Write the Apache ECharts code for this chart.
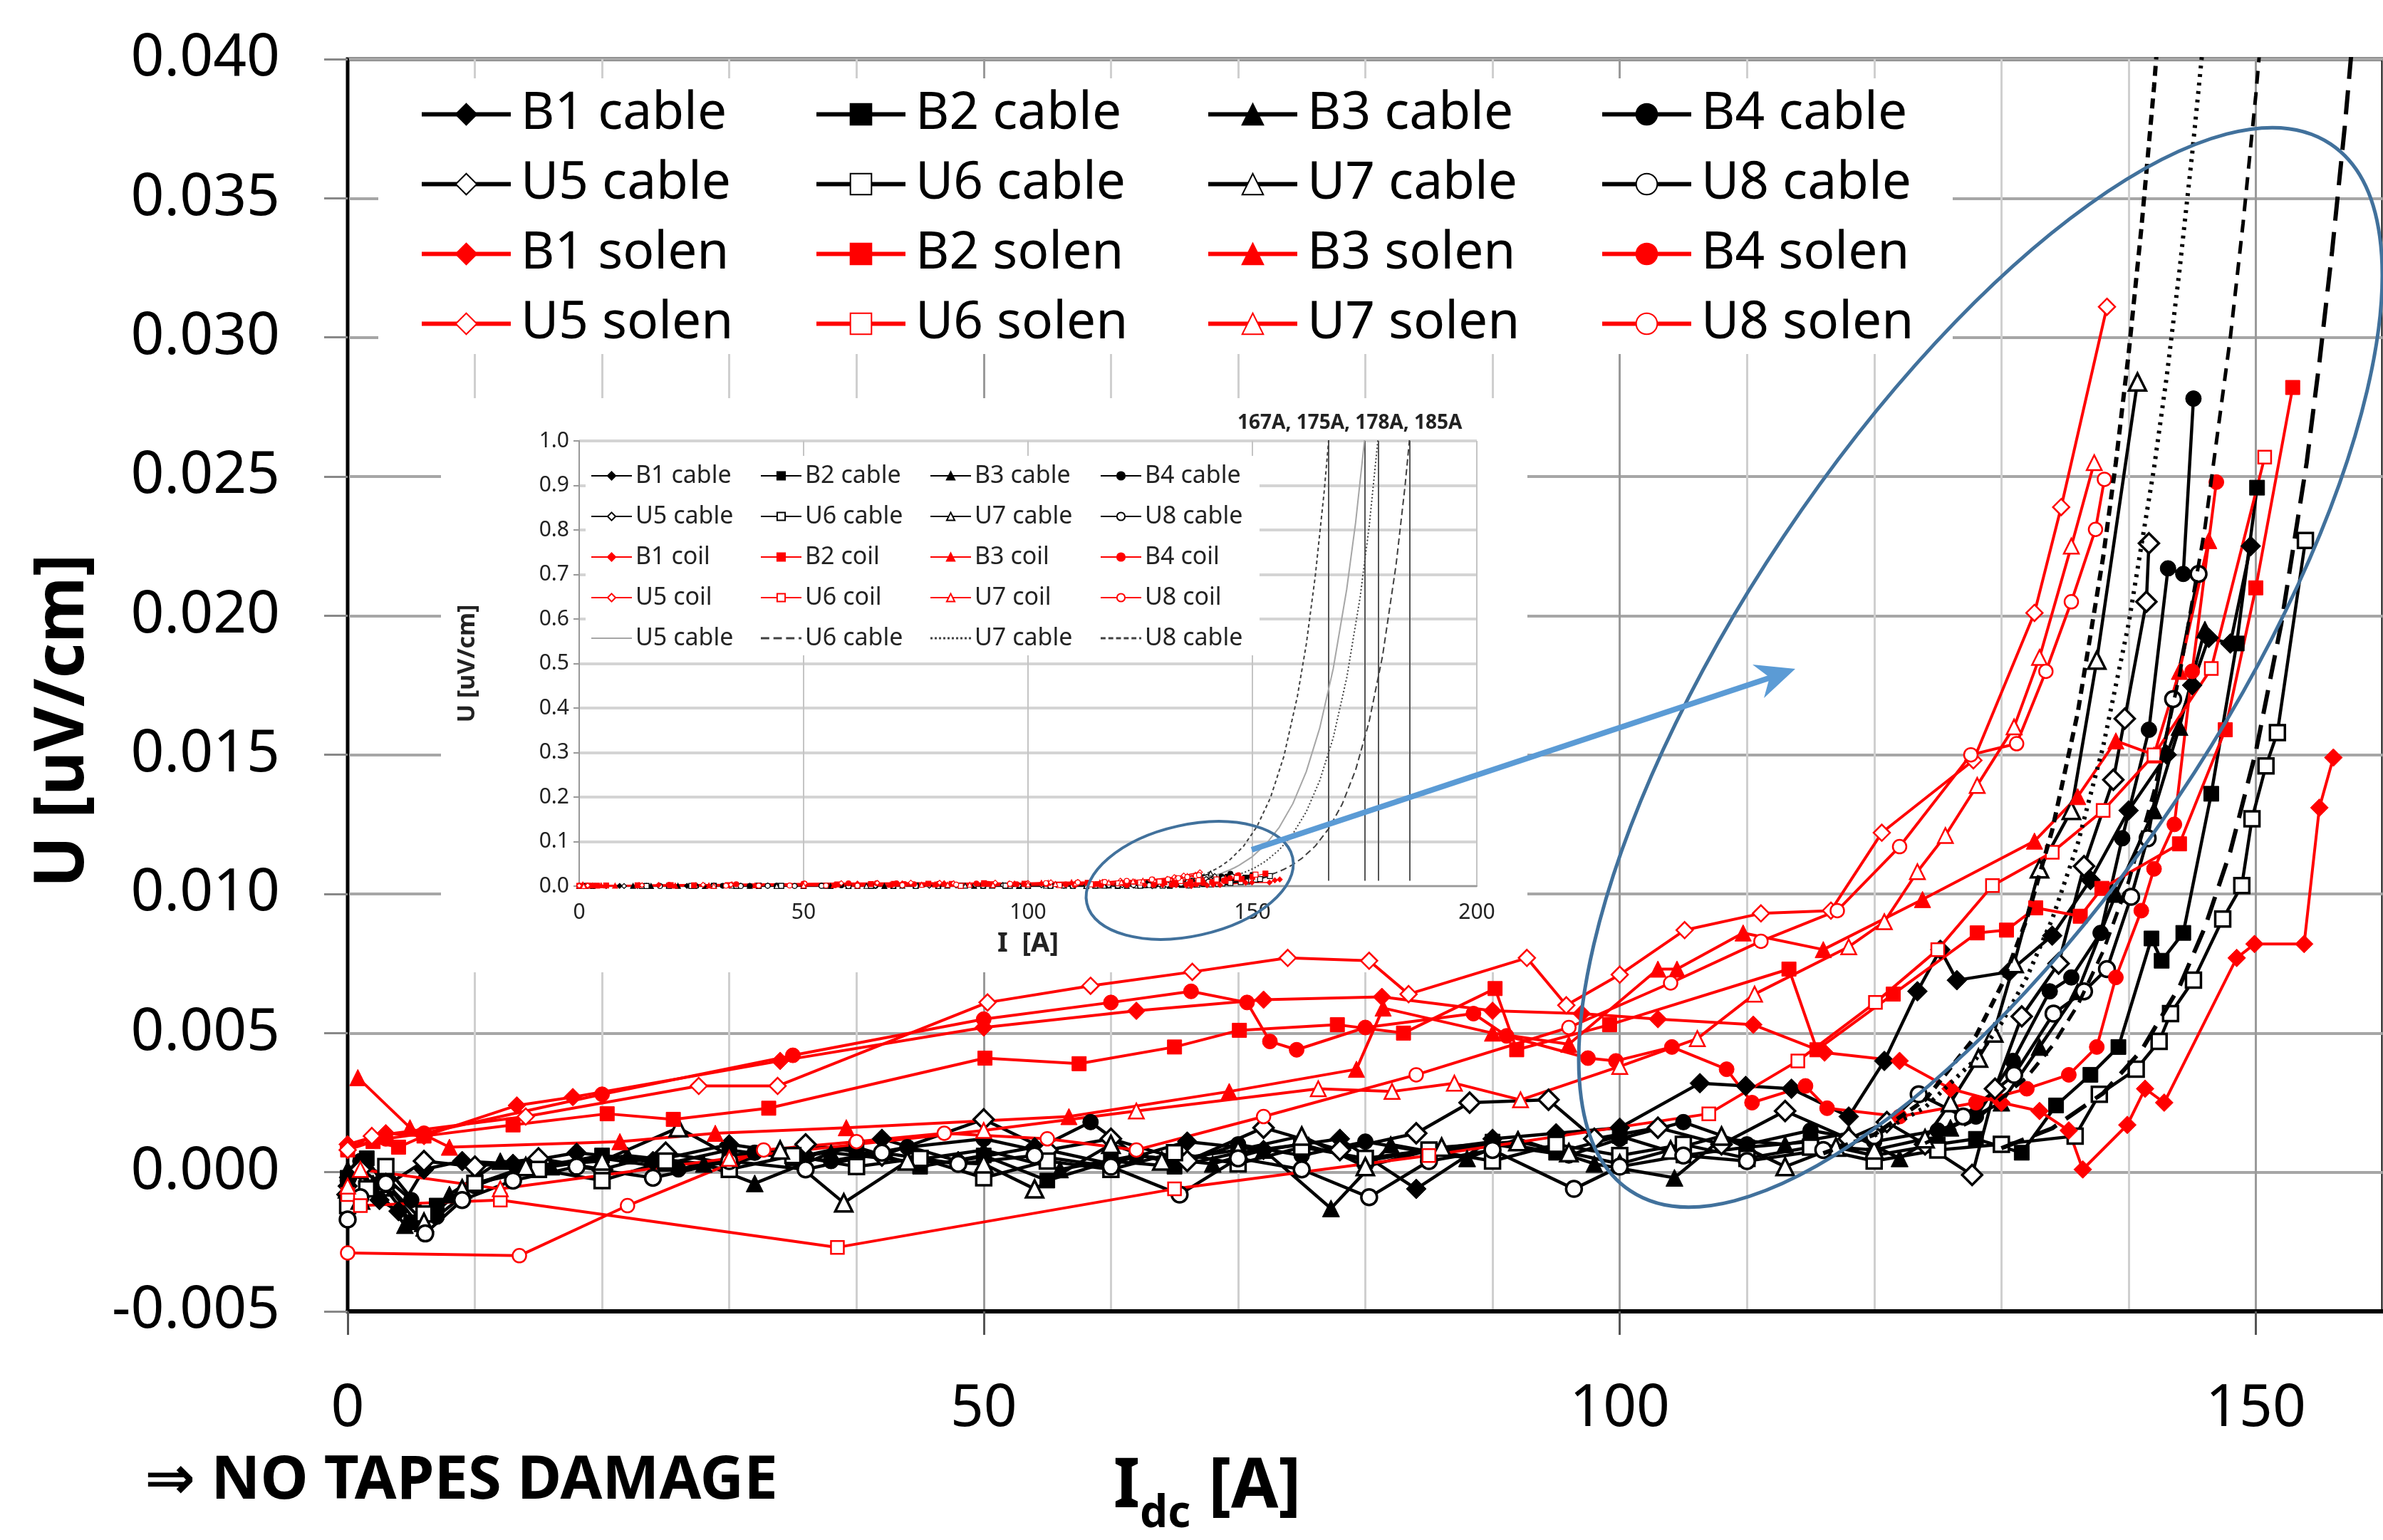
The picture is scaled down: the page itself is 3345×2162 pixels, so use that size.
<!DOCTYPE html>
<html>
<head>
<meta charset="utf-8">
<script src="https://cdn.jsdelivr.net/npm/echarts@6/dist/echarts.min.js"></script>
<style>html,body{margin:0;padding:0;background:#fff}#c{width:3345px;height:2162px}</style>
</head>
<body>
<div id="c"></div>
<script>
// ---- data: [I (A), U (uV/cm)] ----
const b1Cable = [[0,-0.0005],[1,0.0002],[2.5,-0.0010],[4,-0.0014],[6,0.0001],[9,0.0004],[13,0.0003],[18,0.0007],[24,0.0004],[30,0.0010],[36,0.0006],[42,0.0012],[48,0.0004],[54,0.0009],[60,0.0003],[66,0.0011],[72,0.0008],[78,0.0012],[84,-0.0006],[90,0.0012],[95,0.0014],[100,0.0016],[106.3,0.0032],[109.9,0.0031],[113.5,0.0030],[118,0.0020],[120.8,0.0040],[123.4,0.0065],[125.2,0.0080],[126.5,0.0069],[130.6,0.0072],[134,0.0085],[137,0.0105],[140,0.0130],[143,0.0150],[145,0.0175],[146.3,0.0192],[148,0.0190],[149.6,0.0225]];
const b2Cable = [[0,-0.0002],[1.5,0.0005],[3,-0.0006],[5,-0.0018],[7,-0.0012],[10,-0.0004],[15,0.0002],[20,0.0006],[25,0.0003],[30,0.0008],[35,0.0005],[40,0.0009],[45,0.0002],[50,0.0006],[55,-0.0003],[60,0.0004],[65,0.0002],[70,0.0007],[75,0.0010],[80,0.0004],[85,0.0008],[90,0.0011],[95,0.0007],[100,0.0013],[105,0.0006],[110,0.0009],[115,0.0011],[120,0.0006],[125,0.0010],[128,0.0012],[131.6,0.0007],[134.3,0.0024],[137,0.0035],[139.2,0.0045],[141.8,0.0084],[142.6,0.0076],[144.3,0.0086],[146.5,0.0136],[148.5,0.0190],[150.1,0.0246]];
const b3Cable = [[0,0.0001],[2,-0.0004],[4.5,-0.0019],[6,-0.0020],[8,-0.0008],[12,0.0004],[16,0.0002],[22,0.0006],[28,0.0003],[32,-0.0004],[38,0.0007],[44,0.0004],[50,0.0008],[56,0.0001],[62,0.0006],[68,0.0003],[72,0.0008],[77.3,-0.0013],[82,0.0010],[88,0.0005],[92,0.0012],[98,0.0003],[104.3,-0.0002],[108,0.0012],[113,0.0010],[118,0.0014],[122,0.0005],[126,0.0016],[130,0.0025],[133,0.0045],[136,0.0065],[139,0.0100],[142,0.0130],[144,0.0160],[146,0.0195]];
const b4Cable = [[0,-0.0003],[1,0.0004],[3,-0.0002],[5,-0.0010],[7,-0.0016],[10,-0.0005],[14,0.0002],[20,0.0005],[26,0.0001],[32,0.0007],[38,0.0004],[44,0.0009],[50,0.0012],[54,0.0008],[58.4,0.0018],[62,0.0006],[66,0.0004],[70,0.0010],[75,0.0006],[80,0.0011],[85,0.0007],[90,0.0010],[96,0.0006],[100,0.0012],[105,0.0018],[110,0.0010],[115,0.0015],[120,0.0011],[125,0.0015],[128,0.0020],[130.9,0.0040],[133.8,0.0065],[135.5,0.0070],[137.8,0.0086],[139.5,0.0120],[141.6,0.0159],[143.1,0.0217],[144.3,0.0215],[145.1,0.0278]];
const u5Cable = [[0,-0.0008],[1,0.0001],[3,-0.0005],[6,0.0004],[10,0.0002],[15,0.0005],[20,0.0001],[25,0.0007],[30,0.0003],[36,0.0010],[42,0.0006],[50,0.0019],[55,0.0008],[60,0.0012],[66,0.0004],[72,0.0016],[78,0.0008],[84,0.0014],[88.2,0.0025],[94.4,0.0026],[98,0.0012],[103,0.0016],[108,0.0010],[113,0.0022],[118,0.0012],[121,0.0018],[124,0.0010],[127.7,-0.0001],[129.5,0.0030],[131.6,0.0056],[134.5,0.0075],[136.5,0.0110],[138.8,0.0141],[139.7,0.0163],[141.4,0.0205],[141.6,0.0226]];
const u6Cable = [[0,-0.0012],[1.5,-0.0006],[3,0.0002],[6,-0.0015],[10,-0.0004],[15,0.0001],[20,-0.0003],[25,0.0004],[30,0.0001],[35,0.0006],[40,0.0002],[45,0.0005],[50,-0.0002],[55,0.0004],[60,0.0001],[65,0.0007],[70,0.0003],[75,0.0009],[80,0.0005],[85,0.0008],[90,0.0004],[95,0.0010],[100,0.0006],[105,0.0010],[110,0.0005],[115,0.0009],[120,0.0004],[125,0.0008],[130,0.0010],[135.8,0.0013],[137.7,0.0028],[140.6,0.0037],[142.4,0.0047],[143.3,0.0057],[145.1,0.0069],[147.4,0.0091],[148.9,0.0103],[149.7,0.0127],[150.8,0.0146],[151.7,0.0158],[153.9,0.0227]];
const u7Cable = [[0,-0.0006],[1,-0.0010],[3,-0.0004],[6,-0.0018],[9,-0.0006],[14,0.0002],[20,0.0004],[26,0.0016],[30,0.0006],[34,0.0008],[39,-0.0011],[44,0.0004],[50,0.0003],[54,-0.0006],[60,0.0010],[64,0.0004],[70,0.0008],[75,0.0013],[80,0.0002],[86,0.0009],[92,0.0011],[96,0.0007],[100,0.0003],[104,0.0008],[108,0.0013],[113,0.0002],[117,0.0009],[120,0.0008],[124,0.0012],[126,0.0025],[128.2,0.0041],[129.4,0.0050],[131,0.0075],[133,0.0109],[135.5,0.0130],[137.5,0.0184],[140.7,0.0284]];
const u8Cable = [[0,-0.0017],[1,-0.0009],[3,-0.0004],[6.1,-0.0022],[9,-0.0010],[13,-0.0003],[18,0.0002],[24,-0.0002],[30,0.0004],[36,0.0001],[42,0.0007],[48,0.0003],[54,0.0006],[60,0.0002],[65.4,-0.0008],[70,0.0005],[75,0.0001],[80.3,-0.0009],[85,0.0004],[90,0.0008],[96.4,-0.0006],[100,0.0002],[105,0.0006],[110,0.0004],[116,0.0008],[120,0.0013],[123.5,0.0028],[127,0.0020],[131,0.0035],[134.1,0.0057],[136.5,0.0065],[138.3,0.0073],[140.2,0.0099],[141.5,0.0120],[143.5,0.0170],[145.5,0.0215]];
const b1Solen = [[0,0.0010],[3,0.0014],[6,0.0013],[13.3,0.0024],[17.7,0.0027],[34,0.0040],[50,0.0052],[62,0.0058],[72,0.0062],[81.3,0.0063],[90,0.0058],[97,0.0057],[103,0.0055],[110.5,0.0053],[116.1,0.0043],[122,0.0040],[126,0.0030],[130,0.0025],[133,0.0022],[135.3,0.0015],[136.4,0.0001],[139.9,0.0017],[141.3,0.0030],[142.8,0.0025],[148.5,0.0077],[149.9,0.0082],[153.8,0.0082],[155.0,0.0131],[156.1,0.0149]];
const b2Solen = [[0,0.0008],[2,0.0011],[4,0.0009],[6,0.0013],[13,0.0017],[20.4,0.0021],[25.6,0.0019],[33.1,0.0023],[50.1,0.0041],[57.5,0.0039],[65,0.0045],[70.1,0.0051],[77.8,0.0053],[83,0.0050],[90.2,0.0066],[91.9,0.0044],[99.2,0.0053],[113.3,0.0073],[115.5,0.0044],[121.5,0.0064],[128.1,0.0086],[130.4,0.0087],[132.7,0.0095],[136.2,0.0092],[137.9,0.0102],[144,0.0118],[147.6,0.0159],[150,0.0210],[152.9,0.0282]];
const b3Solen = [[0.8,0.0034],[4.9,0.0016],[8,0.0009],[21.4,0.0011],[28.9,0.0014],[39.2,0.0016],[56.7,0.0020],[69.3,0.0029],[79.3,0.0037],[81.4,0.0059],[90,0.0050],[96,0.0046],[103,0.0073],[104.5,0.0073],[109.7,0.0086],[116,0.0080],[123.8,0.0098],[132.6,0.0119],[136,0.0135],[139,0.0155],[142,0.0150],[144,0.0180],[146.3,0.0227]];
const b4Solen = [[0,0.0009],[3,0.0012],[6,0.0014],[20,0.0028],[35,0.0042],[50,0.0055],[60,0.0061],[66.3,0.0065],[70.7,0.0061],[72.5,0.0047],[74.6,0.0044],[80,0.0052],[88.5,0.0057],[91.1,0.0049],[97.5,0.0041],[99.7,0.0040],[104.1,0.0045],[108.4,0.0037],[110.4,0.0025],[114.6,0.0031],[116.3,0.0023],[122,0.0020],[128,0.0025],[132,0.0030],[135.3,0.0035],[137.5,0.0045],[139,0.0070],[141.0,0.0094],[142,0.0109],[143.6,0.0125],[145,0.0180],[146.9,0.0248]];
const u5Solen = [[0,0.0008],[1.9,0.0013],[14,0.0020],[27.6,0.0031],[33.8,0.0031],[50.3,0.0061],[58.4,0.0067],[66.4,0.0072],[73.9,0.0077],[80.3,0.0076],[83.4,0.0064],[92.7,0.0077],[95.8,0.0060],[100,0.0071],[105.1,0.0087],[111.1,0.0093],[116.6,0.0094],[120.6,0.0122],[127.8,0.0148],[132.6,0.0201],[134.7,0.0239],[138.3,0.0311]];
const u6Solen = [[0,-0.0008],[1,-0.0012],[12,-0.0010],[38.5,-0.0027],[65,-0.0006],[85,0.0006],[107,0.0021],[114,0.0040],[120.1,0.0061],[125,0.0080],[129.3,0.0103],[134,0.0115],[138,0.0130],[142,0.0150],[146.5,0.0181],[150.7,0.0257]];
const u7Solen = [[0,-0.0005],[1,0.0001],[12,-0.0006],[30,0.0005],[50,0.0015],[62,0.0022],[76.3,0.0030],[82.1,0.0029],[87,0.0032],[92.2,0.0026],[100,0.0038],[106.1,0.0048],[110.6,0.0064],[118,0.0081],[120.8,0.0090],[123.4,0.0108],[125.6,0.0121],[128.1,0.0139],[131,0.0160],[133,0.0185],[135.5,0.0225],[137.3,0.0255]];
const u8Solen = [[0,-0.0029],[13.5,-0.0030],[22,-0.0012],[32.7,0.0008],[40,0.0011],[46.9,0.0014],[55,0.0012],[62,0.0008],[72,0.0020],[84,0.0035],[96,0.0052],[104,0.0068],[111.1,0.0083],[117.1,0.0094],[122,0.0117],[127.6,0.0150],[131.2,0.0154],[133.5,0.0180],[135.5,0.0205],[137.4,0.0231],[138.1,0.0249]];
// extrapolated cable curves
const fitU8 = [[116,0.00068],[120,0.00135],[124,0.0026],[128,0.0049],[130,0.0067],[132,0.0091],[134,0.0123],[136,0.0165],[138,0.0221],[139,0.0255],[140,0.0294],[141,0.0339],[142,0.0390],[143,0.0450],[145,0.0594],[148,0.0893],[151,0.1335],[154,0.198],[157,0.291],[160,0.425],[162,0.543],[164,0.696],[166,0.887],[167.5,1.06]];
const fitU5 = [[120,0.00131],[124,0.00233],[128,0.00407],[130,0.00535],[132,0.0070],[134,0.0091],[136,0.0118],[138,0.0153],[140,0.0197],[142,0.0253],[143,0.0286],[144,0.0324],[145,0.0366],[146,0.0412],[147,0.0465],[150,0.0663],[153,0.094],[156,0.1323],[159,0.185],[162,0.257],[165,0.355],[168,0.488],[171,0.666],[173,0.817],[175.5,1.05]];
const fitU7 = [[124,0.00104],[128,0.0019],[132,0.00341],[134,0.00454],[136,0.0060],[138,0.00794],[140,0.01044],[142,0.01368],[144,0.01785],[146,0.02315],[148,0.0300],[149,0.0341],[150,0.0387],[151,0.0439],[153,0.0564],[156,0.0816],[159,0.117],[162,0.167],[165,0.237],[168,0.333],[171,0.467],[174,0.649],[176,0.807],[178.5,1.055]];
const fitU6 = [[130,0.00086],[134,0.00158],[138,0.00284],[141,0.00437],[144,0.00667],[146,0.0088],[148,0.01153],[150,0.0151],[152,0.0197],[154,0.0255],[155,0.0291],[156,0.0331],[157,0.0376],[158,0.0427],[159,0.0484],[161,0.0622],[164,0.0898],[167,0.129],[170,0.184],[173,0.261],[176,0.369],[179,0.517],[182,0.721],[184,0.898],[185.5,1.055]];
const insetArrowCurrents = [167, 175, 178, 185];
const insetArrowLabel = '167A, 175A, 178A, 185A';

// ---- styling ----
const F = "'Noto Sans', 'DejaVu Sans', sans-serif";
const BLACK = '#000000', RED = '#FF0000';
const mainSpecs = [
  {name:'B1 cable', data:b1Cable, color:BLACK, symbol:'diamond', size:28, open:false},
  {name:'B2 cable', data:b2Cable, color:BLACK, symbol:'rect', size:21, open:false},
  {name:'B3 cable', data:b3Cable, color:BLACK, symbol:'triangle', size:24, open:false},
  {name:'B4 cable', data:b4Cable, color:BLACK, symbol:'circle', size:22, open:false},
  {name:'U5 cable', data:u5Cable, color:BLACK, symbol:'diamond', size:28, open:true},
  {name:'U6 cable', data:u6Cable, color:BLACK, symbol:'rect', size:21, open:true},
  {name:'U7 cable', data:u7Cable, color:BLACK, symbol:'triangle', size:24, open:true},
  {name:'U8 cable', data:u8Cable, color:BLACK, symbol:'circle', size:22, open:true},
  {name:'B1 solen', data:b1Solen, color:RED, symbol:'diamond', size:25, open:false},
  {name:'B2 solen', data:b2Solen, color:RED, symbol:'rect', size:20, open:false},
  {name:'B3 solen', data:b3Solen, color:RED, symbol:'triangle', size:23, open:false},
  {name:'B4 solen', data:b4Solen, color:RED, symbol:'circle', size:21, open:false},
  {name:'U5 solen', data:u5Solen, color:RED, symbol:'diamond', size:23, open:true},
  {name:'U6 solen', data:u6Solen, color:RED, symbol:'rect', size:18, open:true},
  {name:'U7 solen', data:u7Solen, color:RED, symbol:'triangle', size:21, open:true},
  {name:'U8 solen', data:u8Solen, color:RED, symbol:'circle', size:19, open:true}
];
const fitSpecs = [
  {name:'U5 cable fit', data:fitU5, mainType:[4,8], mainWidth:6, insetColor:'#a6a6a6', insetType:'solid'},
  {name:'U6 cable fit', data:fitU6, mainType:[34,16], mainWidth:6, insetColor:'#404040', insetType:[9,5]},
  {name:'U7 cable fit', data:fitU7, mainType:[18,12], mainWidth:5, insetColor:'#404040', insetType:[2,3]},
  {name:'U8 cable fit', data:fitU8, mainType:[14,9], mainWidth:6, insetColor:'#404040', insetType:[5,4]}
];

const series = [];
mainSpecs.forEach(s => {
  series.push({
    type:'line', name:s.name, data:s.data, xAxisIndex:1, yAxisIndex:0,
    symbol:s.symbol, symbolSize:s.size, showAllSymbol:true,
    lineStyle:{color:s.color, width:s.color===RED?4:4.5},
    itemStyle:{color:s.open ? '#ffffff' : s.color, borderColor:s.color,
               borderWidth:s.open ? (s.color===RED?2.5:3.5) : 1},
    z:2, animation:false, silent:true
  });
});
// inset fits first so the inset legend icons use their styles
fitSpecs.forEach((s, i) => {
  const ser = {
    type:'line', name:s.name, data:s.data, xAxisIndex:2, yAxisIndex:1,
    symbol:'none', smooth:false,
    color:s.insetColor, lineStyle:{color:s.insetColor, width:2, type:s.insetType},
    itemStyle:{color:s.insetColor},
    z:5, animation:false, silent:true
  };
  if (i === 0) {
    ser.markLine = {
      silent:true, symbol:['none','arrow'], symbolSize:[0,14],
      label:{show:false},
      lineStyle:{color:'#555555', width:2, type:'solid'},
      data: insetArrowCurrents.map(v => [{coord:[v,1.0]},{coord:[v,0.012]}])
    };
  }
  series.push(ser);
});
fitSpecs.forEach(s => {
  series.push({
    type:'line', name:s.name, data:s.data, xAxisIndex:1, yAxisIndex:0,
    symbol:'none', smooth:false,
    color:BLACK, lineStyle:{color:BLACK, width:s.mainWidth, type:s.mainType},
    z:3, animation:false, silent:true
  });
});
mainSpecs.forEach(s => {
  series.push({
    type:'line', name:s.name, data:s.data, xAxisIndex:2, yAxisIndex:1,
    symbol:s.symbol, symbolSize:7, showAllSymbol:true,
    lineStyle:{color:s.color, width:1.5},
    itemStyle:{color:s.open ? '#ffffff' : s.color, borderColor:s.color, borderWidth:1.2},
    z:5, animation:false, silent:true
  });
});

const mainCols = [
  ['B1 cable','U5 cable','B1 solen','U5 solen'],
  ['B2 cable','U6 cable','B2 solen','U6 solen'],
  ['B3 cable','U7 cable','B3 solen','U7 solen'],
  ['B4 cable','U8 cable','B4 solen','U8 solen']
];
const mainColX = [589, 1143, 1693, 2246];
const insetColX = [829, 1067, 1305, 1544];
const iconSolid = 'path://M0,0h58v2h-58z';
const iconDash = 'path://M0,0h12v3h-12zM18,0h12v3h-12zM36,0h12v3h-12zM54,0h4v3h-4z';
const iconDot = 'path://M0,0h3v3h-3zM6,0h3v3h-3zM12,0h3v3h-3zM18,0h3v3h-3zM24,0h3v3h-3zM30,0h3v3h-3zM36,0h3v3h-3zM42,0h3v3h-3zM48,0h3v3h-3zM54,0h3v3h-3z';
const iconDash2 = 'path://M0,0h7v3h-7zM11,0h7v3h-7zM22,0h7v3h-7zM33,0h7v3h-7zM44,0h7v3h-7zM55,0h3v3h-3z';
const fitIcons = [iconSolid, iconDash, iconDot, iconDash2];

const legends = [];
mainCols.forEach((col, i) => {
  legends.push({
    orient:'vertical', left:mainColX[i], top:124, padding:0,
    itemWidth:125, itemHeight:37, itemGap:25, selectedMode:false,
    data:col, z:6,
    lineStyle:{width:6},
    textStyle:{fontSize:73, lineHeight:73, color:'#000', fontFamily:F, padding:[0,0,0,9]}
  });
});
mainCols.forEach((col, i) => {
  const data = col.slice();
  data.push({name:fitSpecs[i].name, icon:fitIcons[i]});
  legends.push({
    orient:'vertical', left:insetColX[i], top:648, padding:0,
    itemWidth:57, itemHeight:14, itemGap:17, selectedMode:false,
    data:data, z:7,
    lineStyle:{width:2},
    formatter: n => n.replace(' fit','').replace('solen','coil'),
    textStyle:{fontSize:34, lineHeight:40, color:'#222', fontFamily:F}
  });
});

const option = {
  animation:false,
  backgroundColor:'#ffffff',
  textStyle:{fontFamily:F},
  grid:[
    {left:488, top:83, width:2861, height:1775, show:true, borderColor:'#000', borderWidth:5, backgroundColor:'rgba(0,0,0,0)'},
    {left:813, top:619, width:1260, height:625, show:false}
  ],
  xAxis:[
    {gridIndex:0, type:'value', position:'top', min:0, max:160, interval:10,
     axisLine:{show:false}, axisTick:{show:false}, axisLabel:{show:false},
     splitLine:{show:true, lineStyle:{color:'#cfcfcf', width:3}}},
    {gridIndex:0, type:'value', position:'bottom', min:0, max:160, interval:50,
     axisLine:{show:true, onZero:false, lineStyle:{color:'#000', width:6}},
     axisTick:{show:true, length:33, lineStyle:{color:'#555', width:3}},
     axisLabel:{margin:97, fontSize:82, color:'#000', fontFamily:F, showMaxLabel:false,
       formatter: v => (v % 50 === 0 ? String(v) : '')},
     splitLine:{show:true, lineStyle:{color:'#9a9a9a', width:3}},
     name:'{i|I}{s|dc}{a| [A]}', nameLocation:'middle', nameGap:180,
     nameTextStyle:{padding:[0,444,0,0],
       rich:{i:{fontSize:96, fontWeight:'bold', color:'#000', fontFamily:F},
             s:{fontSize:62, fontWeight:'bold', color:'#000', fontFamily:F, padding:[74,0,0,0]},
             a:{fontSize:96, fontWeight:'bold', color:'#000', fontFamily:F}}}},
    {gridIndex:1, type:'value', min:0, max:200, interval:50, z:3,
     axisLine:{show:true, onZero:false, lineStyle:{color:'#999', width:2}},
     axisTick:{show:false},
     axisLabel:{fontSize:30, color:'#222', margin:22, fontFamily:F},
     splitLine:{show:true, lineStyle:{color:'#c4c4c4', width:2}},
     name:'I  [A]', nameLocation:'middle', nameGap:62,
     nameTextStyle:{fontSize:38, fontWeight:'bold', color:'#222', fontFamily:F}}
  ],
  yAxis:[
    {gridIndex:0, type:'value', min:-0.005, max:0.04, interval:0.005,
     axisLine:{show:true, onZero:false, lineStyle:{color:'#000', width:4}},
     axisTick:{show:true, length:33, lineStyle:{color:'#888', width:3}},
     axisLabel:{margin:95, fontSize:82, color:'#000', fontFamily:F, formatter: v => v.toFixed(3)},
     splitLine:{show:true, lineStyle:{color:'#a6a6a6', width:4}},
     name:'U [uV/cm]', nameLocation:'middle', nameGap:350,
     nameTextStyle:{fontSize:96, fontWeight:'bold', color:'#000', fontFamily:F, padding:[0,100,0,0]}},
    {gridIndex:1, type:'value', min:0, max:1, interval:0.1, z:3,
     axisLine:{show:true, onZero:false, lineStyle:{color:'#999', width:2}},
     axisTick:{show:true, length:8, lineStyle:{color:'#999', width:2}},
     axisLabel:{fontSize:30, color:'#222', margin:14, fontFamily:F, formatter: v => v.toFixed(1)},
     splitLine:{show:true, lineStyle:{color:'#d4d4d4', width:4}},
     name:'U [uV/cm]', nameLocation:'middle', nameGap:140,
     nameTextStyle:{fontSize:34, fontWeight:'bold', color:'#222', fontFamily:F}}
  ],
  legend: legends,
  series: series,
  graphic:{elements:[
    {type:'rect', silent:true, z:1, shape:{x:531, y:110, width:2210, height:387}, style:{fill:'#ffffff'}},
    {type:'rect', silent:true, z:1, shape:{x:619, y:559, width:1525, height:806}, style:{fill:'#ffffff'}},
    {type:'rect', silent:true, z:4, shape:{x:822, y:640, width:946, height:280}, style:{fill:'#ffffff'}},
    {type:'ellipse', silent:true, z:10, x:2780, y:937, rotation:0.981,
     shape:{cx:0, cy:0, rx:884, ry:332}, style:{fill:'none', stroke:'#41719C', lineWidth:5}},
    {type:'ellipse', silent:true, z:10, x:1670, y:1236, rotation:0.22,
     shape:{cx:0, cy:0, rx:148, ry:78}, style:{fill:'none', stroke:'#41719C', lineWidth:4}},
    {type:'line', silent:true, z:10, shape:{x1:1757, y1:1193, x2:2486, y2:951}, style:{stroke:'#5B9BD5', lineWidth:8}},
    {type:'polygon', silent:true, z:10, shape:{points:[[2520,939],[2476,980],[2484,951],[2460,933]]}, style:{fill:'#5B9BD5'}},
    {type:'text', silent:true, z:10, x:1737, y:594,
     style:{text:insetArrowLabel, font:"bold 28px 'Noto Sans', sans-serif", fill:'#222', align:'left', verticalAlign:'middle'}},
    {type:'text', silent:true, z:10, x:203, y:2080,
     style:{text:'\u21D2 NO TAPES DAMAGE', font:"bold 85px 'Noto Sans', 'DejaVu Sans', sans-serif", fill:'#000', align:'left', verticalAlign:'middle'}}
  ]}
};

const chart = echarts.init(document.getElementById('c'), null, {renderer:'canvas', width:3345, height:2162});
chart.setOption(option);
</script>
</body>
</html>
